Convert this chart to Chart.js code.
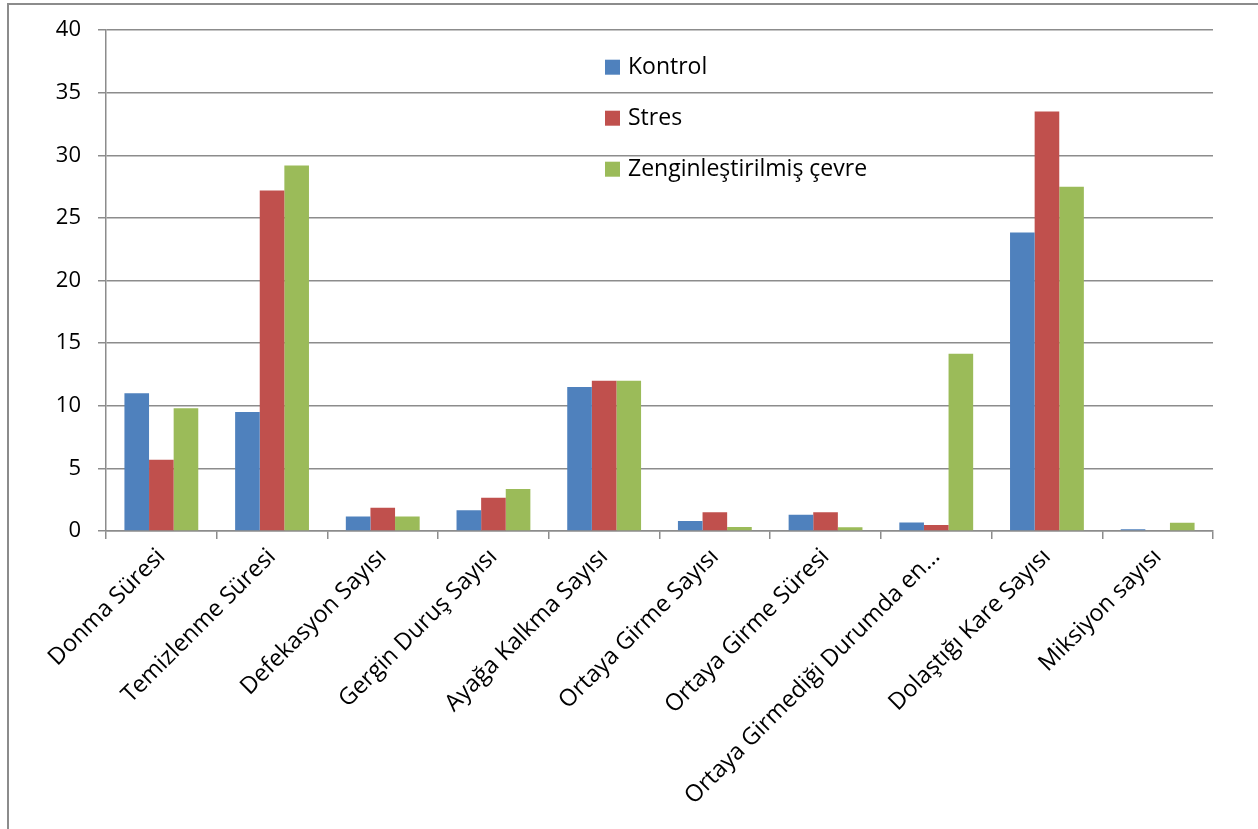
<!DOCTYPE html>
<html>
<head>
<meta charset="utf-8">
<script src="https://cdn.jsdelivr.net/npm/chart.js@4.4.1/dist/chart.umd.min.js"></script>
<style>
  html, body { margin: 0; padding: 0; background: #ffffff; }
  #wrap { position: relative; width: 1258px; height: 829px; overflow: hidden; }
  #frame { position: absolute; left: 7px; top: 3px; width: 1400px; height: 1000px;
           border: 2px solid #8c8c8c; box-sizing: border-box; }
  #c { position: absolute; left: 0; top: 0; }
</style>
</head>
<body>
<div id="wrap">
  <div id="frame"></div>
  <canvas id="c" width="1258" height="829"></canvas>
</div>
<script>
// Behaviour measures per group
const categories = [
  'Donma Süresi',
  'Temizlenme Süresi',
  'Defekasyon Sayısı',
  'Gergin Duruş Sayısı',
  'Ayağa Kalkma Sayısı',
  'Ortaya Girme Sayısı',
  'Ortaya Girme Süresi',
  'Ortaya Girmediği Durumda en…',
  'Dolaştığı Kare Sayısı',
  'Miksiyon sayısı'
];
const seriesNames = ['Kontrol', 'Stres', 'Zenginleştirilmiş çevre'];
const kontrol = [11.0, 9.5, 1.15, 1.65, 11.5, 0.8, 1.3, 0.67, 23.85, 0.13];
const stres   = [5.7, 27.2, 1.85, 2.65, 12.0, 1.5, 1.5, 0.48, 33.5, 0];
const zengin  = [9.8, 29.2, 1.15, 3.35, 12.0, 0.32, 0.3, 14.15, 27.5, 0.65];
const yTicks  = [0, 5, 10, 15, 20, 25, 30, 35, 40];

const colors = ['#4f81bd', '#c0504d', '#9bbb59'];
const gridColor = '#8c8c8c';
const FONT = "'Open Sans', 'Noto Sans', sans-serif";

Chart.defaults.font.family = FONT;
Chart.defaults.color = '#000000';

// Legend drawn inside the plot area, stacked vertically
const insideLegend = {
  id: 'insideLegend',
  afterDraw(chart) {
    const { ctx, chartArea } = chart;
    const x0 = chartArea.left + 499;
    const y0 = chartArea.top + 37;
    const step = 51;
    ctx.save();
    ctx.font = "23px " + FONT;
    ctx.textBaseline = 'middle';
    ctx.textAlign = 'left';
    chart.data.datasets.forEach((ds, i) => {
      const cy = y0 + i * step;
      ctx.fillStyle = ds.backgroundColor;
      ctx.fillRect(x0, cy - 7.5, 15, 15);
      ctx.fillStyle = '#000000';
      ctx.fillText(ds.label, x0 + 23, cy);
    });
    ctx.restore();
  }
};

const datasets = [kontrol, stres, zengin].map((vals, i) => ({
  label: seriesNames[i],
  data: vals,
  backgroundColor: colors[i],
  borderWidth: 0,
  categoryPercentage: 0.667,
  barPercentage: 1.0
}));

new Chart(document.getElementById('c'), {
  type: 'bar',
  data: { labels: categories, datasets },
  options: {
    responsive: false,
    animation: false,
    devicePixelRatio: 1,
    layout: { padding: { left: 0, right: 45, top: 30, bottom: 0 } },
    plugins: {
      legend: { display: false },
      tooltip: { enabled: false }
    },
    scales: {
      x: {
        grid: {
          display: true,
          drawOnChartArea: false,
          drawTicks: true,
          tickLength: 8,
          color: gridColor,
          lineWidth: 1.5,
          offset: true
        },
        border: { display: true, color: gridColor, width: 1.5 },
        ticks: {
          minRotation: 45,
          maxRotation: 45,
          autoSkip: false,
          padding: 4,
          font: { size: 23.5 },
          color: '#000000'
        },
        afterFit(s) { s.height = 829 - 531; }
      },
      y: {
        min: 0,
        max: 40,
        afterBuildTicks(s) { s.ticks = yTicks.map(v => ({ value: v })); },
        grid: {
          color: gridColor,
          lineWidth: 1.5,
          drawTicks: true,
          tickLength: 8
        },
        border: { display: true, color: gridColor, width: 1.5 },
        ticks: {
          padding: 17,
          font: { size: 22 },
          color: '#000000'
        },
        afterFit(s) { s.width = 106; }
      }
    }
  },
  plugins: [insideLegend]
});
</script>
</body>
</html>
